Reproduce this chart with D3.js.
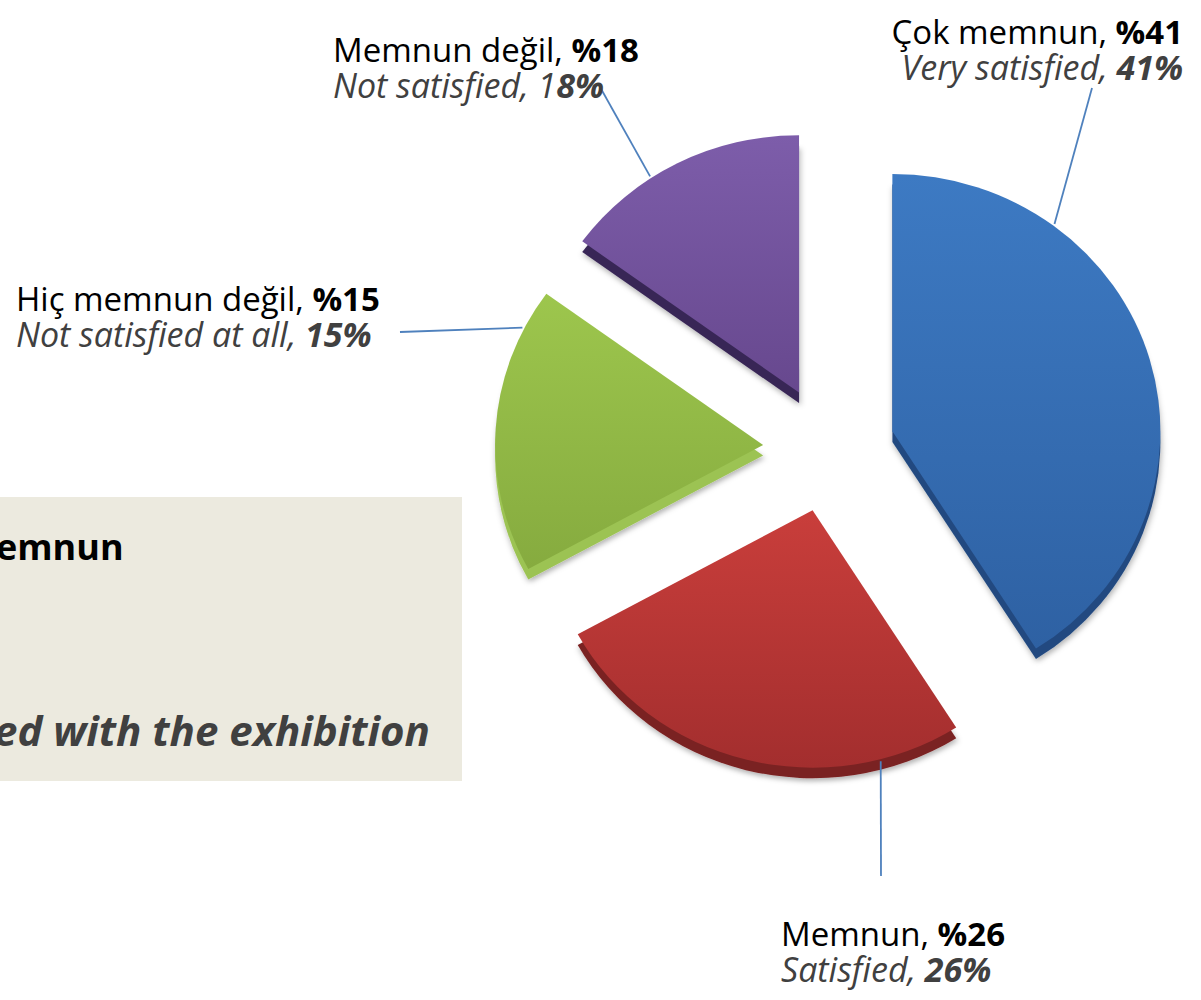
<!DOCTYPE html>
<html>
<head>
<meta charset="utf-8">
<script src="https://cdn.jsdelivr.net/npm/d3@7"></script>
<style>
    body { margin: 0; background: #fff; }
    svg { display: block; font-family: "Open Sans", sans-serif; }
</style>
</head>
<body>
<div id="chart"></div>
<script>
// survey data, clockwise from 12 o'clock
const categories = ["Çok memnun", "Memnun", "Memnun değil", "Hiç memnun değil"];
const englishLabels = ["Very satisfied", "Satisfied", "Not satisfied", "Not satisfied at all"];
const values = [41, 26, 18, 15];
const boxLines = ["emnun", "ed with the exhibition"];

const width = 1201, height = 1000;
const cx = 829, cy = 449, radius = 268, explode = 66, squash = 0.96;

// fill top/bottom, side colour
const sliceColors = [
    {top: "#3d7ac3", bottom: "#2e61a3", side: "#224a80"},
    {top: "#c93e3b", bottom: "#a32e2e", side: "#7a2020"},
    {top: "#9dc64d", bottom: "#86ab3f", side: "#9cc352"},
    {top: "#7d5daa", bottom: "#67488e", side: "#392656"}
];

// where each label sits (per category), which slice its leader goes to
// (in the original the two "not satisfied" labels point at each other's slice)
const labelLayout = [
    {x: 1183, y: 44, anchor: "end", target: 0, at: 0.25, lx: 1092, ly: 88},
    {x: 781, y: 946, anchor: "start", target: 1, at: 0.19, lx: 881, ly: 876},
    {x: 333, y: 62, anchor: "start", target: 3, at: 0.38, lx: 600, ly: 87, plainDigits: 1},
    {x: 16, y: 311, anchor: "start", target: 2, at: 0.86, lx: 400, ly: 332}
];

const svg = d3.select("#chart").append("svg")
    .attr("width", width)
    .attr("height", height);

const defs = svg.append("defs");
sliceColors.forEach((c, i) => {
    let g = defs.append("linearGradient")
        .attr("id", "grad" + i)
        .attr("x1", 0).attr("y1", 0).attr("x2", 0).attr("y2", 1);
    g.append("stop").attr("offset", "0%").attr("stop-color", c.top);
    g.append("stop").attr("offset", "100%").attr("stop-color", c.bottom);
});
let shadow = defs.append("filter").attr("id", "shadow")
    .attr("x", "-20%").attr("y", "-20%").attr("width", "140%").attr("height", "140%");
shadow.append("feDropShadow")
    .attr("dx", 1).attr("dy", 3)
    .attr("stdDeviation", 3)
    .attr("flood-color", "#000")
    .attr("flood-opacity", 0.3);

// beige box, its text runs off the left edge
svg.append("rect")
    .attr("x", 0).attr("y", 497)
    .attr("width", 462).attr("height", 284)
    .attr("fill", "#eceadf");
svg.append("text")
    .attr("x", -4).attr("y", 560)
    .attr("font-size", 36).attr("font-weight", "bold")
    .attr("fill", "#000")
    .text(boxLines[0]);
svg.append("text")
    .attr("x", -6).attr("y", 746)
    .attr("font-size", 42).attr("font-weight", "bold").attr("font-style", "italic")
    .attr("fill", "#404040")
    .text(boxLines[1]);

const pie = d3.pie().sort(null).value(d => d);
const arcs = pie(values);
const arc = d3.arc().innerRadius(0).outerRadius(radius);

function offsetOf(d) {
    let mid = (d.startAngle + d.endAngle) / 2;
    return [explode * Math.sin(mid), -explode * Math.cos(mid) * squash];
}

const slices = svg.append("g").attr("transform", "translate(" + cx + "," + cy + ")");

// side (depth) layer first, then the faces
arcs.forEach((d, i) => {
    let off = offsetOf(d);
    slices.append("g")
        .attr("transform", "translate(" + off[0] + "," + off[1] + ") scale(1," + squash + ")")
        .append("path")
        .attr("d", arc(d))
        .attr("transform", "translate(0,11)")
        .attr("fill", sliceColors[i].side)
        .attr("filter", "url(#shadow)");
});
arcs.forEach((d, i) => {
    let off = offsetOf(d);
    slices.append("g")
        .attr("transform", "translate(" + off[0] + "," + off[1] + ") scale(1," + squash + ")")
        .append("path")
        .attr("d", arc(d))
        .attr("fill", "url(#grad" + i + ")");
});

// leader lines
labelLayout.forEach(l => {
    let d = arcs[l.target];
    let off = offsetOf(d);
    let a = d.startAngle + (d.endAngle - d.startAngle) * l.at;
    let px = cx + off[0] + (radius + 2) * Math.sin(a);
    let py = cy + off[1] - (radius + 2) * Math.cos(a) * squash;
    svg.append("line")
        .attr("x1", l.lx).attr("y1", l.ly)
        .attr("x2", px).attr("y2", py)
        .attr("stroke", "#4f81bd")
        .attr("stroke-width", 1.8);
});

// labels: turkish line, then english line in italic grey
labelLayout.forEach((l, i) => {
    let t1 = svg.append("text")
        .attr("x", l.x).attr("y", l.y)
        .attr("text-anchor", l.anchor)
        .attr("font-size", 33)
        .attr("fill", "#000");
    t1.append("tspan").text(categories[i] + ", ");
    t1.append("tspan").attr("font-weight", "bold").text("%" + values[i]);

    let t2 = svg.append("text")
        .attr("x", l.x).attr("y", l.y + 36)
        .attr("text-anchor", l.anchor)
        .attr("font-size", 34)
        .attr("font-style", "italic")
        .attr("fill", "#404040");
    let num = values[i] + "%";
    let plain = l.plainDigits || 0;
    t2.append("tspan").text(englishLabels[i] + ", " + num.slice(0, plain));
    t2.append("tspan").attr("font-weight", "bold").text(num.slice(plain));
});
</script>
</body>
</html>
